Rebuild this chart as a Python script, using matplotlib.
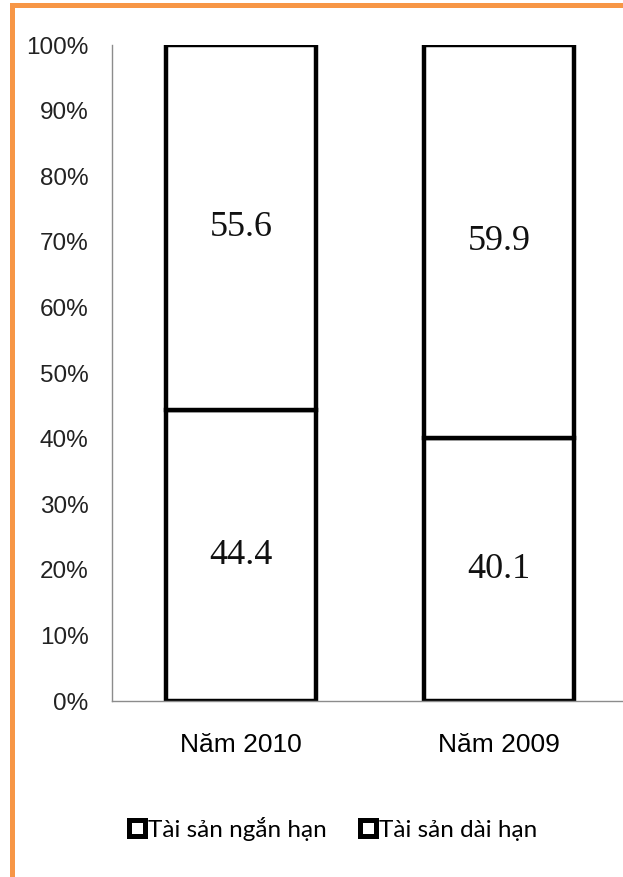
import matplotlib
matplotlib.use("Agg")
import matplotlib.pyplot as plt
from matplotlib.lines import Line2D
from matplotlib.patches import Rectangle

categories = ["Năm 2010", "Năm 2009"]
short_term = [44.4, 40.1]   # Tài sản ngắn hạn
long_term = [55.6, 59.9]    # Tài sản dài hạn
series_names = ["Tài sản ngắn hạn", "Tài sản dài hạn"]
yticks = [0, 10, 20, 30, 40, 50, 60, 70, 80, 90, 100]
ytick_labels = [f"{v}%" for v in yticks]

W, H = 623, 877
fig = plt.figure(figsize=(W / 100, H / 100), dpi=100)
fig.patch.set_facecolor("white")

# orange frame (left and top)
frame = Rectangle((11.8 / W, -0.2), 1.5, (H - 5.3) / H + 0.2,
                  transform=fig.transFigure, fill=False,
                  edgecolor="#F79646", linewidth=3.6, zorder=0)
fig.patches.append(frame)

ax = fig.add_axes([112 / W, 176 / H, 516 / W, 656 / H])
x = list(range(len(categories)))
bw = 150 / 258
lw = 3.2
ax.bar(x, short_term, width=bw, color="white", edgecolor="black", linewidth=lw)
ax.bar(x, long_term, width=bw, bottom=short_term, color="white",
       edgecolor="black", linewidth=lw)

for i in x:
    ax.text(i, short_term[i] / 2, f"{short_term[i]:.1f}", ha="center", va="center",
            fontsize=26, family="Liberation Serif", color="#111111")
    ax.text(i, short_term[i] + long_term[i] / 2, f"{long_term[i]:.1f}", ha="center",
            va="center", fontsize=26, family="Liberation Serif", color="#111111")

ax.set_xlim(-0.5, 1.5)
ax.set_ylim(0, 100)
ax.set_yticks(yticks)
ax.set_yticklabels(ytick_labels, fontsize=17.5, family="Liberation Sans", color="#222222")
ax.set_xticks(x)
ax.set_xticklabels(categories, fontsize=19, family="Liberation Sans", color="black")
ax.tick_params(axis="y", length=0, pad=17)
ax.tick_params(axis="x", length=0, pad=23)
for s in ["top", "right"]:
    ax.spines[s].set_visible(False)
for s in ["left", "bottom"]:
    ax.spines[s].set_color("#8C8C8C")
    ax.spines[s].set_linewidth(1.0)
ax.set_facecolor("none")

handles = [Line2D([], [], linestyle="none", marker="s", markersize=11,
                  markerfacecolor="white", markeredgecolor="black",
                  markeredgewidth=3.6) for _ in series_names]
fig.legend(handles, series_names, loc="center", bbox_to_anchor=(332 / W, 1 - 829 / H),
           ncol=2, frameon=False, prop={"family": "Lato", "size": 17.5},
           handlelength=0.8, handletextpad=0.05, columnspacing=1.3)

fig.savefig("out.png", dpi=100)
